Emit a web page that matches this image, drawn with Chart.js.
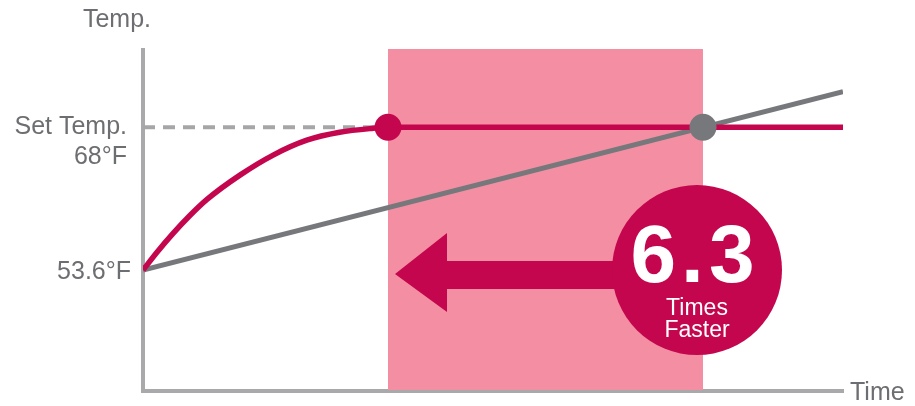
<!DOCTYPE html>
<html>
<head>
<meta charset="utf-8">
<title>Heating speed</title>
<script src="https://cdn.jsdelivr.net/npm/chart.js@4.4.1/dist/chart.umd.min.js"></script>
<style>
  body { margin: 0; background: #fff; }
  #wrap { width: 915px; height: 406px; position: relative; }
</style>
</head>
<body>
<div id="wrap"><canvas id="myChart"></canvas></div>
<script>
// chart values (time in arbitrary units 0-100, temp in °F)
const startTemp = 53.6;
const setTemp = 68;
const fastTimes = [0, 2, 4.3, 6.7, 9.1, 13.9, 18.6, 23.4, 28.1, 32.9, 35, 100];
const fastTemps = [53.6, 55.4, 57.3, 59.1, 60.7, 63.2, 65.2, 66.7, 67.5, 67.9, 68, 68];
const slowTimes = [0, 100];
const slowTemps = [53.6, 71.6];
const fastReach = 35;   // red dot
const slowReach = 80;   // grey dot
const yLabels = ['53.6°F', '68°F'];
const speedup = '6.3';

const RED = '#c4064e';
const PINK = '#f48fa3';
const GREY_LINE = '#77787b';
const AXIS = '#a9a9ac';
const TEXT = '#6d6e71';
const FONT = '"Liberation Sans", Arial, Helvetica, sans-serif';

const toPoints = (xs, ys) => xs.map((x, i) => ({ x: x, y: ys[i] }));

// band, arrow, badge and axis texts
const overlay = {
  id: 'overlay',
  beforeDatasetsDraw(chart) {
    const { ctx, chartArea, scales } = chart;
    const x0 = scales.x.getPixelForValue(fastReach);
    const x1 = scales.x.getPixelForValue(slowReach);
    ctx.save();
    ctx.fillStyle = PINK;
    ctx.fillRect(x0, chartArea.top - 1, x1 - x0, chartArea.bottom - chartArea.top);
    ctx.restore();
  },
  afterDatasetsDraw(chart) {
    const { ctx, scales } = chart;
    const x0 = scales.x.getPixelForValue(fastReach);
    const x1 = scales.x.getPixelForValue(slowReach);
    const cy = scales.y.getPixelForValue(startTemp);
    const cx = x1 - 6;
    const ay = cy + 4;

    // arrow pointing back to the fast dot
    ctx.save();
    ctx.fillStyle = RED;
    ctx.beginPath();
    ctx.moveTo(x0 + 7, ay);
    ctx.lineTo(x0 + 59, ay - 41);
    ctx.lineTo(x0 + 59, ay - 13);
    ctx.lineTo(cx, ay - 13);
    ctx.lineTo(cx, ay + 15);
    ctx.lineTo(x0 + 59, ay + 15);
    ctx.lineTo(x0 + 59, ay + 38);
    ctx.closePath();
    ctx.fill();

    // badge
    ctx.beginPath();
    ctx.arc(cx, cy, 85, 0, Math.PI * 2);
    ctx.fill();

    ctx.fillStyle = '#fff';
    ctx.textAlign = 'center';
    ctx.textBaseline = 'alphabetic';
    ctx.font = 'bold 82px ' + FONT;
    ctx.letterSpacing = '5px';
    ctx.fillText(speedup, cx - 2, cy + 12);
    ctx.letterSpacing = '0px';
    ctx.font = '23px ' + FONT;
    ctx.fillText('Times', cx, cy + 45);
    ctx.fillText('Faster', cx, cy + 67);
    ctx.restore();
  },
  afterDraw(chart) {
    const { ctx, chartArea, scales } = chart;
    const left = chartArea.left;
    const ySet = scales.y.getPixelForValue(setTemp);
    const yStart = scales.y.getPixelForValue(startTemp);
    ctx.save();
    ctx.fillStyle = TEXT;
    ctx.font = '25px ' + FONT;
    ctx.textBaseline = 'middle';
    ctx.textAlign = 'center';
    ctx.fillText('Temp.', left - 26, 20);
    ctx.textAlign = 'right';
    ctx.fillText('Set Temp.', left - 16, ySet);
    ctx.fillText(yLabels[1], left - 16, ySet + 30);
    ctx.fillText(yLabels[0], left - 12, yStart + 2);
    ctx.textAlign = 'left';
    ctx.fillText('Time', chartArea.right + 7, chartArea.bottom + 2);
    ctx.restore();
  }
};

const ctx = document.getElementById('myChart').getContext('2d');
const myChart = new Chart(ctx, {
  type: 'line',
  data: {
    datasets: [
      {
        data: toPoints([0, fastReach], [setTemp, setTemp]),
        borderColor: '#a6a6a8',
        borderWidth: 4,
        borderDash: [12, 8],
        pointRadius: 0,
        order: 4
      },
      {
        data: toPoints(slowTimes, slowTemps),
        borderColor: GREY_LINE,
        borderWidth: 5,
        pointRadius: 0,
        order: 3
      },
      {
        data: toPoints(fastTimes, fastTemps),
        borderColor: RED,
        borderWidth: 5.5,
        cubicInterpolationMode: 'monotone',
        pointRadius: 0,
        order: 2
      },
      {
        data: [{ x: fastReach, y: setTemp }],
        backgroundColor: RED,
        borderWidth: 0,
        pointRadius: 13.5,
        showLine: false,
        order: 1
      },
      {
        data: [{ x: slowReach, y: setTemp }],
        backgroundColor: GREY_LINE,
        borderWidth: 0,
        pointRadius: 13.5,
        showLine: false,
        order: 0
      }
    ]
  },
  options: {
    responsive: true,
    maintainAspectRatio: false,
    animation: false,
    events: [],
    layout: { padding: { left: 143, right: 72, top: 50, bottom: 15 } },
    plugins: { legend: { display: false }, tooltip: { enabled: false } },
    scales: {
      x: {
        type: 'linear',
        min: 0,
        max: 100,
        grid: { display: false, drawTicks: false },
        ticks: { display: false, padding: 0 },
        border: { color: AXIS, width: 4 }
      },
      y: {
        min: 41.4,
        max: 75.8,
        grid: { display: false, drawTicks: false },
        ticks: { display: false, padding: 0 },
        border: { color: AXIS, width: 4 }
      }
    }
  },
  plugins: [overlay]
});
</script>
</body>
</html>
